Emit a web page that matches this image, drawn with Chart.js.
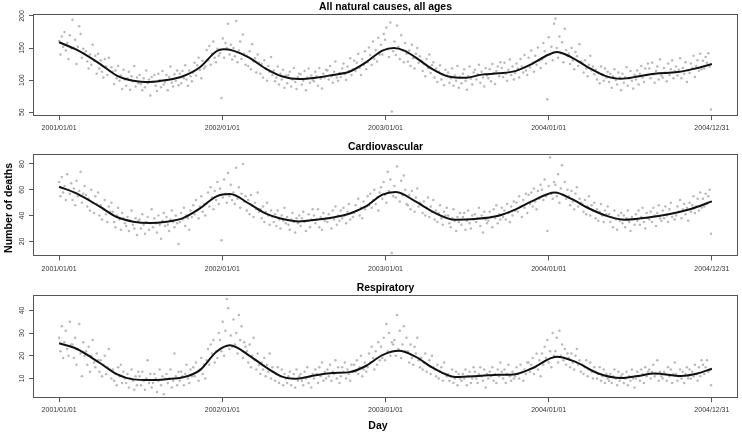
<!DOCTYPE html>
<html>
<head>
<meta charset="utf-8">
<script src="https://cdn.jsdelivr.net/npm/chart.js@4.4.1/dist/chart.umd.min.js"></script>
<style>
    html, body { margin: 0; padding: 0; background: #fff; }
    #wrap { position: relative; width: 742px; height: 432px; overflow: hidden; font-family: "Liberation Sans", Arial, sans-serif; color: #000; }
    .panel { position: absolute; left: 0; width: 742px; height: 140px; }
    .ylab { position: absolute; left: 8px; top: 208px; transform: translate(-50%, -50%) rotate(-90deg); font-weight: bold; font-size: 10.6px; white-space: nowrap; }
    .xlab { position: absolute; left: 378px; top: 425px; transform: translate(-50%, -50%); font-weight: bold; font-size: 10.5px; }
</style>
</head>
<body>
<div id="wrap">
    <div class="panel" style="top:0.6px"><canvas id="p1" width="742" height="140"></canvas></div>
    <div class="panel" style="top:141.3px"><canvas id="p2" width="742" height="140"></canvas></div>
    <div class="panel" style="top:281.8px"><canvas id="p3" width="742" height="140"></canvas></div>
    <div class="ylab">Number of deaths</div>
    <div class="xlab">Day</div>
</div>
<script>
/**
 * Daily deaths 2001-2004, three causes, with a smooth trend line
 */

// Eje X: días desde 2001/01/01
const tickDays = [0, 365, 730, 1095, 1460];
const tickLabels = ['2001/01/01', '2002/01/01', '2003/01/01', '2004/01/01', '2004/12/31'];
const dayStep = 3; // one observation every 3 days

const panelTitles = ['All natural causes, all ages', 'Cardiovascular', 'Respiratory'];

// Daily counts (one row = ~one month)
const allCauses = [
    161,140,168,152,175,146,158,133,170,150,
    194,150,163,125,152,184,172,135,149,141,
    145,129,118,140,124,155,130,138,110,141,
    118,131,113,104,133,121,108,135,114,120,
    113,94,115,103,122,99,107,86,116,101,
    91,103,113,85,106,98,122,90,104,95,
    108,94,84,103,89,115,95,101,76,105,
    97,108,91,83,110,100,89,114,93,97,
    108,84,105,121,96,90,109,99,115,92,
    110,95,114,103,123,101,91,115,106,98,
    112,127,107,123,135,116,103,130,118,121,
    147,131,153,124,141,160,135,128,149,138,
    142,72,165,135,158,150,188,140,155,132,
    150,137,192,128,146,160,133,171,141,124,
    138,122,145,117,156,129,134,112,140,127,
    110,125,104,131,118,99,122,113,136,108,
    115,98,104,121,93,110,101,116,88,107,
    95,108,113,90,101,119,97,86,105,110,
    109,93,99,114,84,104,118,96,107,100,
    98,113,106,91,119,102,87,110,104,116,
    115,101,122,106,96,113,129,104,99,111,
    105,118,126,109,100,121,114,134,108,117,
    130,114,127,141,119,108,133,124,145,117,
    128,151,139,124,160,133,147,129,166,140,
    155,140,172,163,182,148,136,190,51,145,
    160,139,185,152,133,170,146,128,158,141,
    129,146,122,155,134,118,141,150,127,137,
    130,114,125,106,133,119,140,111,123,128,
    104,118,97,113,123,101,109,92,116,107,
    112,96,103,118,91,107,99,122,88,105,
    95,110,117,99,85,106,121,102,93,112,
    116,101,109,124,96,113,104,90,119,107,
    103,117,98,125,111,94,114,121,106,128,
    119,105,127,110,99,116,132,108,121,101,
    111,126,118,104,133,121,112,139,115,108,
    135,120,146,127,113,138,124,151,130,119,
    132,158,145,126,70,167,140,152,131,188,
    196,150,135,168,142,159,128,180,147,138,
    141,125,150,131,117,144,137,122,156,129,
    127,112,131,118,106,124,138,115,121,109,
    116,101,112,95,121,108,99,118,104,113,
    97,110,88,106,117,100,93,112,104,84,
    110,96,105,120,91,103,114,99,87,108,
    101,115,93,110,122,104,97,118,108,126,
    118,103,127,109,96,114,121,101,132,107,
    104,119,112,98,126,108,117,131,103,114,
    121,107,116,134,103,119,110,128,97,115,
    111,126,119,138,105,122,131,114,141,117,
    130,118,136,127,142,121,54
];

const cardio = [
    66,55,70,58,63,52,72,60,57,65,
    52,61,48,67,55,59,74,50,57,63,
    56,47,53,44,60,50,42,55,49,58,
    40,48,37,45,52,41,35,47,43,50,
    43,35,31,40,46,37,29,42,38,34,
    32,39,28,36,44,33,30,38,25,36,
    37,30,41,33,26,35,39,29,34,45,
    31,38,34,27,40,33,22,36,42,32,
    39,33,28,37,44,35,31,40,34,18,
    35,42,37,46,32,40,38,29,44,39,
    48,41,52,44,38,47,55,43,49,40,
    50,58,47,62,54,45,59,52,66,49,
    61,21,54,68,57,50,73,55,64,52,
    58,49,77,53,62,46,57,80,51,55,
    44,52,41,56,48,39,50,45,58,43,
    45,38,47,35,43,50,40,33,44,39,
    35,41,32,44,37,30,40,36,46,34,
    39,33,29,37,42,35,27,38,34,40,
    32,38,43,35,28,36,41,31,37,45,
    40,34,37,45,31,39,29,42,36,38,
    35,41,38,30,44,37,47,33,40,36,
    44,38,46,40,34,43,49,37,42,39,
    42,48,44,53,40,46,38,51,45,47,
    55,48,57,46,52,60,49,54,44,58,
    62,53,66,56,50,74,59,68,11,55,
    63,54,78,58,51,67,56,71,60,49,
    48,56,45,59,52,43,54,61,47,50,
    49,42,51,40,46,54,39,47,43,52,
    37,44,35,42,48,38,33,43,40,46,
    40,34,31,38,45,36,28,39,35,42,
    33,39,42,29,36,44,34,30,40,37,
    41,35,38,46,32,40,27,43,37,34,
    36,43,39,31,45,38,48,34,41,37,
    46,39,44,37,49,42,35,47,40,51,
    44,50,43,55,47,39,52,46,57,42,
    56,49,58,47,61,51,45,59,53,64,
    60,52,68,55,28,63,85,57,53,66,
    64,55,72,50,61,79,56,66,53,60,
    55,48,59,51,45,57,62,47,53,50,
    49,43,52,41,47,55,40,48,44,50,
    38,45,36,43,49,40,35,44,41,47,
    41,35,39,31,44,37,29,40,36,42,
    34,40,31,38,44,35,28,39,37,33,
    41,36,44,33,39,46,35,30,42,38,
    37,43,35,46,40,32,42,48,38,36,
    44,38,47,40,35,45,50,39,42,37,
    40,47,43,52,38,45,49,41,46,36,
    50,43,48,55,42,47,53,44,58,46,
    53,47,57,49,55,60,26
];

const resp = [
    28,22,33,19,26,31,23,20,35,25,
    25,19,28,16,23,34,21,11,26,20,
    22,16,24,13,20,27,17,15,21,18,
    13,18,11,16,20,12,15,23,14,10,
    14,9,12,7,15,11,16,8,13,10,
    8,12,6,10,14,9,5,11,7,13,
    11,7,13,9,5,10,18,8,12,6,
    8,12,10,4,9,14,7,11,3,10,
    12,8,10,14,6,9,21,11,7,13,
    9,13,11,7,12,16,10,8,14,11,
    15,11,17,13,9,14,19,12,16,10,
    18,23,16,25,21,27,17,22,19,30,
    27,22,35,20,31,45,41,23,29,24,
    36,25,30,21,38,27,33,19,26,24,
    22,17,25,15,20,28,18,14,21,16,
    12,17,14,19,11,16,13,21,10,15,
    13,9,12,15,8,11,14,7,12,10,
    8,11,13,7,10,12,6,14,9,11,
    12,9,7,13,10,15,8,11,6,12,
    10,14,12,8,15,11,17,9,13,10,
    14,11,16,9,13,12,18,10,15,8,
    11,15,13,17,10,14,12,9,16,13,
    16,13,18,12,15,20,11,14,17,13,
    15,21,17,24,19,14,22,16,26,18,
    24,19,28,18,34,22,30,20,26,25,
    27,20,38,23,31,19,25,33,22,28,
    22,17,25,19,16,24,21,28,18,15,
    19,14,17,21,13,16,18,12,20,15,
    14,11,16,10,13,15,9,17,12,11,
    12,9,11,14,8,10,13,7,12,10,
    9,12,10,14,7,11,13,8,10,15,
    13,10,8,12,15,11,9,14,6,12,
    10,13,11,15,9,12,8,14,11,17,
    13,10,14,8,12,16,11,9,13,10,
    11,15,12,10,16,13,9,14,12,17,
    17,13,16,19,12,15,21,14,18,11,
    21,16,24,19,27,17,22,15,30,20,
    22,28,17,31,20,25,18,23,16,21,
    19,15,21,17,14,20,23,16,18,13,
    16,12,15,18,11,14,17,13,10,15,
    13,10,12,15,9,11,14,8,12,10,
    9,12,8,11,14,10,7,13,9,11,
    12,8,10,13,7,11,9,14,10,6,
    10,13,11,9,14,12,8,15,11,13,
    14,10,13,16,11,12,18,9,13,11,
    10,13,12,9,15,11,14,8,12,17,
    12,9,11,14,10,13,8,12,15,10,
    14,10,13,11,16,12,9,15,11,18,
    16,12,15,18,13,14,7
];

// Smooth trend (knots)
const allSmoothDays = [0,40,92,129,166,203,240,277,315,352,368,389,426,463,500,537,574,612,649,686,723,749,772,797,834,871,908,945,983,1020,1057,1094,1113,1146,1183,1220,1257,1294,1332,1383,1420,1460];
const allSmooth = [159,147,125,107,99,97,100,106,120,145,148,146,134.5,117.5,105.5,101.5,103.5,108,113,127.5,146,150,146,135.5,117.5,105.5,103.5,108.5,110.5,114,125,139.5,144,135.5,120,107,102,105.5,110,112.5,117.5,125];

const cardioSmoothDays = [0,40,92,129,166,203,240,277,315,352,382,426,463,500,537,574,612,649,686,723,753,797,834,886,930,983,1020,1057,1109,1146,1183,1228,1265,1317,1369,1413,1460];
const cardioSmooth = [62.4,57,46.7,38.9,35.3,34.3,35.3,38.1,45.6,54.9,56.7,49,41.5,37.4,35.5,36.8,38.6,41.5,47.1,56.2,58.3,51,43.3,36.8,37.4,39.9,44.6,51,58,52.9,45.9,39.4,36.8,38.6,41.5,45.1,51];

const respSmoothDays = [0,40,92,129,166,203,240,277,315,352,382,426,463,500,530,574,612,649,686,723,760,797,834,886,945,983,1020,1057,1113,1154,1206,1257,1294,1332,1391,1428,1460];
const respSmooth = [25.5,23,16.7,11.9,9.6,9.3,9.7,10.5,13.7,21.8,24.6,20,14.9,10.7,9.9,11.4,12.4,12.8,15.5,20.3,22.2,19.6,14.9,10.7,11.2,11.6,11.9,14.4,19.6,17.4,12.2,10.2,11.1,12.2,11.1,12.2,14.3];

const yTicksAll = [50, 100, 150, 200];
const yTicksCardio = [20, 40, 60, 80];
const yTicksResp = [10, 20, 30, 40];

const FONT = 'Liberation Sans, Arial, sans-serif';

// Caja alrededor del área del gráfico (estilo R)
const boxPlugin = {
    id: 'box',
    afterDraw(chart) {
        const { ctx, chartArea: a } = chart;
        ctx.save();
        ctx.strokeStyle = '#555';
        ctx.lineWidth = 1;
        const l = Math.round(a.left) + 0.5, t = Math.round(a.top) + 0.5;
        const r = Math.round(a.right) - 0.5, b = Math.round(a.bottom) - 0.5;
        ctx.strokeRect(l, t, r - l, b - t);
        ctx.restore();
    }
};

function makePanel(cfg) {
    const ctx = document.getElementById(cfg.id);
    return new Chart(ctx, {
        type: 'scatter',
        data: {
            datasets: [{
                type: 'line',
                data: cfg.smoothDays.map((d, i) => ({ x: d, y: cfg.smooth[i] })),
                borderColor: '#111',
                borderWidth: 2,
                pointRadius: 0,
                cubicInterpolationMode: 'monotone',
                fill: false
            }, {
                data: cfg.daily.map((v, i) => ({ x: i * dayStep, y: v })),
                pointRadius: 1.25,
                pointBackgroundColor: '#b9b9b9',
                pointBorderWidth: 0
            }]
        },
        options: {
            responsive: false,
            animation: false,
            devicePixelRatio: 1,
            layout: { padding: { left: 0, right: 2, top: 0, bottom: 0 } },
            plugins: {
                legend: { display: false },
                tooltip: { enabled: false },
                title: {
                    display: true,
                    text: cfg.title,
                    fullSize: false,
                    color: '#000',
                    font: { family: FONT, size: 10.4, weight: 'bold', lineHeight: 1.2 },
                    padding: { top: 0, bottom: cfg.titlePad }
                }
            },
            scales: {
                x: {
                    type: 'linear',
                    min: -58.4,
                    max: 1518.4,
                    afterBuildTicks: s => { s.ticks = tickDays.map(v => ({ value: v })); },
                    afterFit: s => { s.height = cfg.xHeight; },
                    ticks: {
                        autoSkip: false,
                        minRotation: 0,
                        maxRotation: 0,
                        padding: 4,
                        color: '#333',
                        font: { family: FONT, size: 7 },
                        callback: (v, i) => tickLabels[i]
                    },
                    grid: { drawOnChartArea: false, drawTicks: true, tickLength: 4, color: '#555' },
                    border: { display: false }
                },
                y: {
                    min: cfg.yMin,
                    max: cfg.yMax,
                    afterBuildTicks: s => { s.ticks = cfg.yTicks.map(v => ({ value: v })); },
                    afterFit: s => { s.width = 33; },
                    ticks: {
                        autoSkip: false,
                        minRotation: 90,
                        maxRotation: 90,
                        crossAlign: 'center',
                        padding: cfg.yPad,
                        color: '#333',
                        font: { family: FONT, size: 7 }
                    },
                    grid: { drawOnChartArea: false, drawTicks: true, tickLength: 4, color: '#555' },
                    border: { display: false }
                }
            }
        },
        plugins: [boxPlugin]
    });
}

makePanel({
    id: 'p1', title: panelTitles[0], daily: allCauses,
    smoothDays: allSmoothDays, smooth: allSmooth, yTicks: yTicksAll,
    yMin: 43.8, yMax: 203.6, titlePad: 0.2, xHeight: 24.9, yPad: 0.7
});
makePanel({
    id: 'p2', title: panelTitles[1], daily: cardio,
    smoothDays: cardioSmoothDays, smooth: cardioSmooth, yTicks: yTicksCardio,
    yMin: 8.4, yMax: 87.75, titlePad: 0.5, xHeight: 24.6, yPad: 2.6
});
makePanel({
    id: 'p3', title: panelTitles[2], daily: resp,
    smoothDays: respSmoothDays, smooth: respSmooth, yTicks: yTicksResp,
    yMin: 1.3, yMax: 46.6, titlePad: 1.0, xHeight: 23.8, yPad: 2.6
});
</script>
</body>
</html>
